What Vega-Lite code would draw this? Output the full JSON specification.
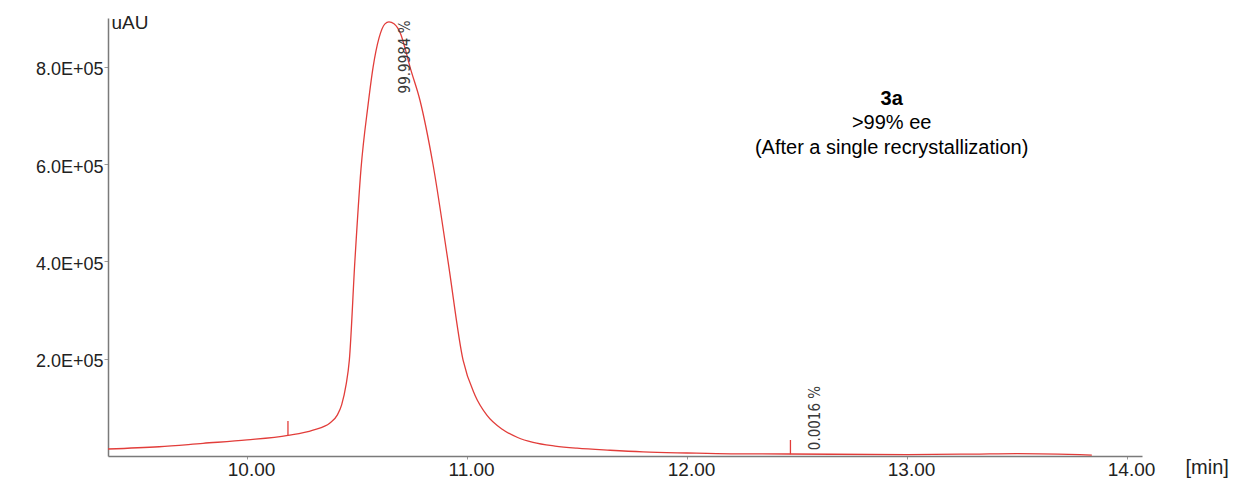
{
  "$schema": "https://vega.github.io/schema/vega-lite/v6.json",
  "width": 1034,
  "height": 438,
  "autosize": "none",
  "padding": {"left": 108, "top": 18, "right": 96, "bottom": 22},
  "config": {"view": {"stroke": null}, "font": "Liberation Sans"},
  "datasets": {
    "trace": [
      {"t": 9.368, "v": 14400},
      {"t": 9.6, "v": 19000},
      {"t": 9.8, "v": 26000},
      {"t": 10.0, "v": 33000},
      {"t": 10.186, "v": 42500},
      {"t": 10.3, "v": 53400},
      {"t": 10.377, "v": 67800},
      {"t": 10.41, "v": 84000},
      {"t": 10.43, "v": 105000},
      {"t": 10.45, "v": 146000},
      {"t": 10.465, "v": 197000},
      {"t": 10.49, "v": 399000},
      {"t": 10.518, "v": 590000},
      {"t": 10.55, "v": 721000},
      {"t": 10.573, "v": 799000},
      {"t": 10.6, "v": 859000},
      {"t": 10.627, "v": 888000},
      {"t": 10.645, "v": 892000},
      {"t": 10.668, "v": 888000},
      {"t": 10.7, "v": 865000},
      {"t": 10.718, "v": 838000},
      {"t": 10.741, "v": 799000},
      {"t": 10.786, "v": 731000},
      {"t": 10.845, "v": 600000},
      {"t": 10.914, "v": 399000},
      {"t": 10.982, "v": 197000},
      {"t": 11.036, "v": 125000},
      {"t": 11.09, "v": 84000},
      {"t": 11.16, "v": 55000},
      {"t": 11.23, "v": 38000},
      {"t": 11.3, "v": 28000},
      {"t": 11.4, "v": 20500},
      {"t": 11.5, "v": 16000},
      {"t": 11.65, "v": 11800},
      {"t": 11.8, "v": 8500},
      {"t": 12.0, "v": 6200},
      {"t": 12.2, "v": 4500},
      {"t": 12.46, "v": 4100},
      {"t": 13.0, "v": 3000},
      {"t": 13.3, "v": 4000},
      {"t": 13.5, "v": 5000},
      {"t": 13.84, "v": 2000}
    ],
    "markers": [
      {"t": 10.186, "v": 42500, "v2": 71900},
      {"t": 12.47, "v": 3500, "v2": 32900}
    ],
    "peaklabels": [
      {"t": 10.72, "v": 820000, "label": "99.9984 %"},
      {"t": 12.58, "v": 78000, "label": "0.0016 %"}
    ],
    "titleline": [
      {"t": 12.93, "v": 733600, "label": "3a"}
    ],
    "sublines": [
      {"t": 12.93, "v": 684000, "label": ">99% ee"},
      {"t": 12.93, "v": 633000, "label": "(After a single recrystallization)"}
    ]
  },
  "encoding": {
    "x": {
      "field": "t",
      "type": "quantitative",
      "scale": {"domain": [9.368, 14.068], "nice": false, "zero": false},
      "axis": {
        "values": [10, 11, 12, 13, 14],
        "format": ".2f",
        "grid": false,
        "domainColor": "#7a7a7a",
        "domainWidth": 1.5,
        "tickColor": "#9a9a9a",
        "tickSize": 3,
        "labelFontSize": 19,
        "labelColor": "#222222",
        "labelPadding": 1,
        "labelOffset": 4,
        "labelFlush": false,
        "title": "[min]",
        "titleFontSize": 20,
        "titleFontWeight": "normal",
        "titleColor": "#222222",
        "titleAlign": "left",
        "titleBaseline": "middle",
        "titleX": 1077,
        "titleY": 11
      }
    },
    "y": {
      "field": "v",
      "type": "quantitative",
      "scale": {"domain": [0, 900000], "nice": false},
      "axis": {
        "values": [200000, 400000, 600000, 800000],
        "labelExpr": "format(datum.value/100000, '.1f') + 'E+05'",
        "grid": false,
        "domainColor": "#7a7a7a",
        "domainWidth": 1.5,
        "tickColor": "#9a9a9a",
        "tickSize": 4,
        "labelFontSize": 18,
        "labelColor": "#222222",
        "labelPadding": 1,
        "labelOffset": 3,
        "title": "uAU",
        "titleFontSize": 19,
        "titleFontWeight": "normal",
        "titleColor": "#222222",
        "titleAngle": 0,
        "titleAlign": "left",
        "titleBaseline": "middle",
        "titleX": 3,
        "titleY": 4
      }
    }
  },
  "layer": [
    {
      "data": {"name": "trace"},
      "mark": {"type": "line", "color": "#e23d3a", "strokeWidth": 1.3, "interpolate": "monotone"}
    },
    {
      "data": {"name": "markers"},
      "mark": {"type": "rule", "color": "#e23d3a", "strokeWidth": 1.3},
      "encoding": {"y2": {"field": "v2"}}
    },
    {
      "data": {"name": "peaklabels"},
      "mark": {"type": "text", "angle": 270, "align": "center", "baseline": "middle", "fontSize": 15, "font": "Liberation Sans Narrow, DejaVu Sans Condensed, sans-serif", "color": "#3a3a3a"},
      "encoding": {"text": {"field": "label"}}
    },
    {
      "data": {"name": "titleline"},
      "mark": {"type": "text", "align": "center", "baseline": "middle", "fontSize": 20, "fontWeight": "bold", "color": "#000000"},
      "encoding": {"text": {"field": "label"}}
    },
    {
      "data": {"name": "sublines"},
      "mark": {"type": "text", "align": "center", "baseline": "middle", "fontSize": 20, "color": "#000000"},
      "encoding": {"text": {"field": "label"}}
    }
  ]
}
